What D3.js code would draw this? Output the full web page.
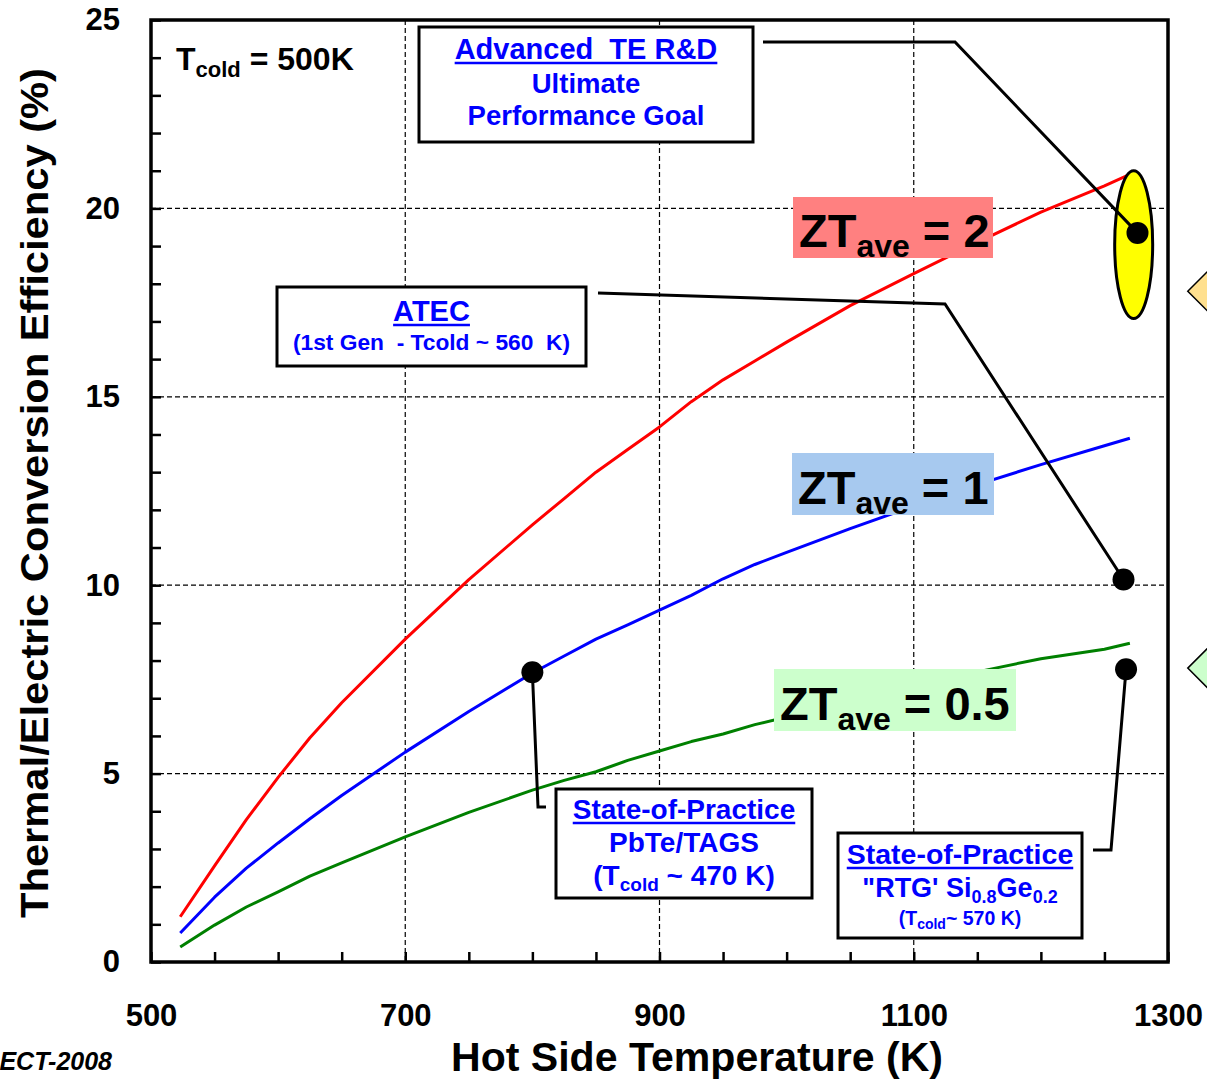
<!DOCTYPE html>
<html>
<head>
<meta charset="utf-8">
<script src="https://cdn.jsdelivr.net/npm/d3@7"></script>
<style>
  body { margin: 0; background: #fff; }
  svg { display: block; font-family: "Liberation Sans", Arial, sans-serif; font-weight: bold; }
</style>
</head>
<body>
<div id="chart"></div>
<script>
// hot side temperatures (K) shared by the three ZT curves
const hotTemps = [523, 550, 575, 600, 625, 650, 700, 750, 800, 825, 850, 875, 900, 925, 950, 975, 1000, 1050, 1100, 1150, 1200, 1250, 1270];
const zt2Eff = [1.2, 2.55, 3.78, 4.9, 5.95, 6.88, 8.57, 10.15, 11.6, 12.3, 13.0, 13.6, 14.2, 14.87, 15.45, 15.95, 16.45, 17.42, 18.27, 19.1, 19.9, 20.6, 20.9];
const zt1Eff = [0.77, 1.72, 2.49, 3.16, 3.8, 4.42, 5.57, 6.65, 7.67, 8.12, 8.57, 8.95, 9.34, 9.73, 10.17, 10.55, 10.87, 11.5, 12.1, 12.67, 13.2, 13.7, 13.9];
const zt05Eff = [0.4, 0.98, 1.46, 1.86, 2.28, 2.63, 3.32, 3.97, 4.56, 4.82, 5.05, 5.35, 5.6, 5.85, 6.05, 6.3, 6.5, 6.95, 7.35, 7.7, 8.05, 8.3, 8.46];

// technology points (hot T, efficiency)
const goalPoint = [1276, 19.35];
const goalRange = [17.08, 21.0];
const atecPoint = [1265, 10.15];
const pbtePoint = [800, 7.69];
const sigePoint = [1267, 7.77];

// markers partly visible at the right edge
const edgeMarkers = [[1336, 17.8, '#ffe08f'], [1336, 7.8, '#ccffcc']];

const xTicks = d3.range(500, 1301, 50);
const xTickLabels = [500, 700, 900, 1100, 1300];
const yTicks = d3.range(0, 26, 1);
const yTickLabels = [0, 5, 10, 15, 20, 25];
const xGrid = [700, 900, 1100];
const yGrid = [5, 10, 15, 20];

const width = 1207, height = 1080;
const plot = { left: 151, right: 1168, top: 20, bottom: 962 };

const svg = d3.select('#chart').append('svg')
    .attr('width', width)
    .attr('height', height);

const x = d3.scaleLinear().domain([500, 1300]).range([plot.left, plot.right]);
const y = d3.scaleLinear().domain([0, 25]).range([plot.bottom, plot.top]);

// grid
svg.append('g')
    .attr('stroke', '#000')
    .attr('stroke-width', 1.2)
    .attr('stroke-dasharray', '5,3')
    .call(g => g.selectAll('.gx').data(xGrid).join('line')
        .attr('x1', d => x(d)).attr('x2', d => x(d))
        .attr('y1', plot.top).attr('y2', plot.bottom))
    .call(g => g.selectAll('.gy').data(yGrid).join('line')
        .attr('x1', plot.left).attr('x2', plot.right)
        .attr('y1', d => y(d)).attr('y2', d => y(d)));

// curves
const series = [
    { values: zt2Eff, color: '#ff0000' },
    { values: zt1Eff, color: '#0000ff' },
    { values: zt05Eff, color: '#008000' }
];
const line = d3.line()
    .x((d, i) => x(hotTemps[i]))
    .y(d => y(d));

svg.append('g')
    .selectAll('path')
    .data(series)
    .join('path')
    .attr('fill', 'none')
    .attr('stroke', d => d.color)
    .attr('stroke-width', 3)
    .attr('stroke-linejoin', 'round')
    .attr('d', d => line(d.values));

// ZT labels
function ztLabel(x0, y0, w, h, fill, value) {
    const g = svg.append('g');
    g.append('rect').attr('x', x0).attr('y', y0).attr('width', w).attr('height', h).attr('fill', fill);
    const t = g.append('text')
        .attr('x', x0 + 6)
        .attr('y', y0 + h - 11)
        .attr('font-size', 47)
        .attr('fill', '#000');
    t.append('tspan').text('ZT');
    t.append('tspan').attr('font-size', 32).attr('dy', 10).text('ave');
    t.append('tspan').attr('dy', -10).text('\u00a0= ' + value);
}
ztLabel(793, 197, 200, 61, '#ff8080', '2');
ztLabel(792, 453, 202, 62, '#a7c9ef', '1');
ztLabel(774, 669, 242, 62, '#ccffcc', '0.5');

// ellipse around goal
svg.append('ellipse')
    .attr('cx', x(1273))
    .attr('cy', (y(goalRange[0]) + y(goalRange[1])) / 2)
    .attr('rx', 19)
    .attr('ry', (y(goalRange[0]) - y(goalRange[1])) / 2)
    .attr('fill', '#ffff00')
    .attr('stroke', '#000')
    .attr('stroke-width', 3);

// annotation boxes
function annotBox(x0, y0, w, h, rows) {
    const g = svg.append('g');
    g.append('rect')
        .attr('x', x0).attr('y', y0).attr('width', w).attr('height', h)
        .attr('fill', '#fff').attr('stroke', '#000').attr('stroke-width', 3);
    rows.forEach(r => {
        const t = g.append('text')
            .attr('x', x0 + w / 2)
            .attr('y', r.y)
            .attr('text-anchor', 'middle')
            .attr('font-size', r.size)
            .attr('fill', '#0000ff');
        if (r.length) t.attr('textLength', r.length).attr('lengthAdjust', 'spacingAndGlyphs');
        r.parts.forEach(p => {
            const s = t.append('tspan').text(p.text);
            if (p.sub) s.attr('font-size', p.sub).attr('dy', p.dy);
            else if (p.dy) s.attr('dy', p.dy);
        });
        if (r.underline) {
            const b = t.node().getBBox();
            g.append('line')
                .attr('x1', b.x).attr('x2', b.x + b.width)
                .attr('y1', r.y + 4).attr('y2', r.y + 4)
                .attr('stroke', '#0000ff').attr('stroke-width', 2.5);
        }
    });
}

annotBox(419, 27, 334, 115, [
    { y: 59, size: 29, underline: true, parts: [{ text: 'Advanced\u00a0 TE R&D' }] },
    { y: 93, size: 27.5, parts: [{ text: 'Ultimate' }] },
    { y: 125, size: 27.5, parts: [{ text: 'Performance Goal' }] }
]);
annotBox(277, 287, 309, 79, [
    { y: 321, size: 29, underline: true, parts: [{ text: 'ATEC' }] },
    { y: 350, size: 22, length: 277, parts: [{ text: '(1st Gen\u00a0 - Tcold ~ 560\u00a0 K)' }] }
]);
annotBox(556, 789, 256, 109, [
    { y: 819, size: 28, underline: true, parts: [{ text: 'State-of-Practice' }] },
    { y: 852, size: 28, parts: [{ text: 'PbTe/TAGS' }] },
    { y: 885, size: 28, parts: [{ text: '(T' }, { text: 'cold', sub: 19, dy: 6 }, { text: ' ~ 470 K)', dy: -6 }] }
]);
annotBox(838, 833, 244, 105, [
    { y: 864, size: 28.5, underline: true, parts: [{ text: 'State-of-Practice' }] },
    { y: 897, size: 27, parts: [{ text: '"RTG\' Si' }, { text: '0.8', sub: 18, dy: 6 }, { text: 'Ge', dy: -6 }, { text: '0.2', sub: 18, dy: 6 }] },
    { y: 925, size: 19.5, parts: [{ text: '(T' }, { text: 'cold', sub: 14, dy: 4 }, { text: '~ 570 K)', dy: -4 }] }
]);

// leader lines
const leaders = [
    [[763, 42], [955, 42], [x(goalPoint[0]), y(goalPoint[1])]],
    [[598, 293], [945, 304], [x(atecPoint[0]), y(atecPoint[1])]],
    [[x(pbtePoint[0]), y(pbtePoint[1])], [538, 807], [546, 807]],
    [[x(sigePoint[0]), y(sigePoint[1])], [1111, 850], [1093, 850]]
];
svg.append('g')
    .selectAll('path')
    .data(leaders)
    .join('path')
    .attr('fill', 'none')
    .attr('stroke', '#000')
    .attr('stroke-width', 3)
    .attr('d', d => d3.line()(d));

// points
svg.append('g')
    .selectAll('circle')
    .data([goalPoint, atecPoint, pbtePoint, sigePoint])
    .join('circle')
    .attr('cx', d => x(d[0]))
    .attr('cy', d => y(d[1]))
    .attr('r', 11)
    .attr('fill', '#000');

// edge markers (diamonds)
svg.append('g')
    .selectAll('path')
    .data(edgeMarkers)
    .join('path')
    .attr('transform', d => 'translate(' + x(d[0]) + ',' + y(d[1]) + ')')
    .attr('d', 'M-26,0L0,-26L26,0L0,26Z')
    .attr('fill', d => d[2])
    .attr('stroke', '#000')
    .attr('stroke-width', 1.5);

// T cold label
const tc = svg.append('text')
    .attr('x', 176)
    .attr('y', 70)
    .attr('font-size', 32);
tc.append('tspan').text('T');
tc.append('tspan').attr('font-size', 22).attr('dy', 7).text('cold');
tc.append('tspan').attr('dy', -7).text('\u00a0= 500K');

// axes
const yAxis = d3.axisLeft(y)
    .tickValues(yTicks)
    .tickSize(-10)
    .tickPadding(31)
    .tickFormat(d => yTickLabels.includes(d) ? d : '');
const xAxis = d3.axisBottom(x)
    .tickValues(xTicks)
    .tickSize(-10)
    .tickPadding(42)
    .tickFormat(d => xTickLabels.includes(d) ? d : '');

svg.append('g')
    .attr('transform', 'translate(' + plot.left + ',0)')
    .call(yAxis)
    .call(g => g.select('.domain').remove())
    .call(g => g.selectAll('line').attr('stroke-width', 2.5))
    .call(g => g.selectAll('text').attr('font-size', 31).attr('font-weight', 'bold').attr('fill', '#000')
        .attr('font-family', '"Liberation Sans", Arial, sans-serif'));

svg.append('g')
    .attr('transform', 'translate(0,' + plot.bottom + ')')
    .call(xAxis)
    .call(g => g.select('.domain').remove())
    .call(g => g.selectAll('line').attr('stroke-width', 2.5))
    .call(g => g.selectAll('text').attr('font-size', 31).attr('font-weight', 'bold').attr('fill', '#000')
        .attr('font-family', '"Liberation Sans", Arial, sans-serif'));

// frame
svg.append('rect')
    .attr('x', plot.left)
    .attr('y', plot.top)
    .attr('width', plot.right - plot.left)
    .attr('height', plot.bottom - plot.top)
    .attr('fill', 'none')
    .attr('stroke', '#000')
    .attr('stroke-width', 3.5);

// axis titles
svg.append('text')
    .attr('x', 697)
    .attr('y', 1071)
    .attr('text-anchor', 'middle')
    .attr('font-size', 40)
    .attr('textLength', 492)
    .attr('lengthAdjust', 'spacingAndGlyphs')
    .text('Hot Side Temperature (K)');

svg.append('text')
    .attr('transform', 'translate(48,493) rotate(-90)')
    .attr('text-anchor', 'middle')
    .attr('font-size', 38)
    .attr('textLength', 850)
    .attr('lengthAdjust', 'spacingAndGlyphs')
    .text('Thermal/Electric Conversion Efficiency (%)');

svg.append('text')
    .attr('x', 112)
    .attr('y', 1070)
    .attr('text-anchor', 'end')
    .attr('font-size', 25)
    .attr('font-style', 'italic')
    .text('ECT-2008');
</script>
</body>
</html>
